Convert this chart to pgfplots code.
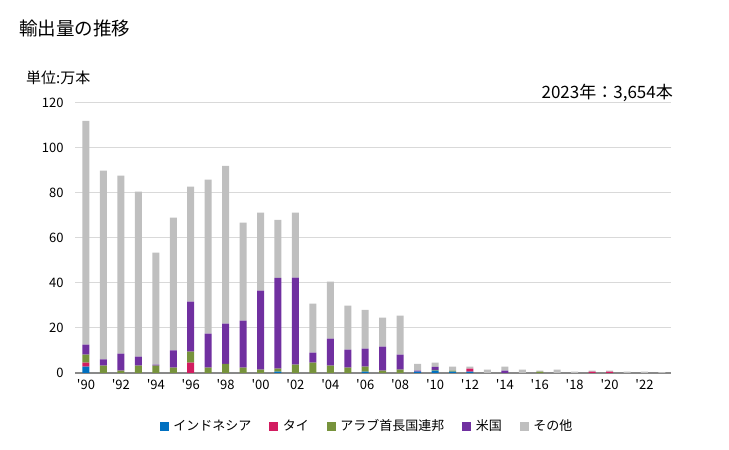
\documentclass[border=0pt]{standalone}
\usepackage{fontspec}
\setmainfont{Noto Sans CJK JP}
\usepackage{pgfplots}
\usepackage{pgfplotstable}
\pgfplotsset{compat=1.18}
\definecolor{cInd}{RGB}{0,112,192}
\definecolor{cThai}{RGB}{210,28,96}
\definecolor{cUAE}{RGB}{119,147,60}
\definecolor{cUS}{RGB}{112,48,160}
\definecolor{cOther}{RGB}{191,191,191}
\definecolor{cGrid}{RGB}{217,217,217}
\definecolor{cAxis}{RGB}{137,137,137}
\pgfplotstableread{
year ind thai uae us other
1990 2.8 1.8 3.6 4.4 99.5
1991 0 0 3.3 2.7 83.9
1992 0 0 1.0 7.6 79.1
1993 0 0 3.3 4.0 73.3
1994 0 0 3.3 0.4 49.8
1995 0 0 2.4 7.6 59.0
1996 0 4.6 4.9 22.2 51.1
1997 0 0 2.4 15.1 68.4
1998 0 0 4.1 17.8 70.2
1999 0 0 2.4 20.9 43.5
2000 0 0 1.5 35.1 34.7
2001 0.6 0 1.3 40.4 25.8
2002 0 0 3.7 38.7 28.9
2003 0 0 4.6 4.4 21.8
2004 0 0 3.3 12.0 25.3
2005 0 0 2.4 8.0 19.5
2006 0.6 0 2.2 8.0 17.3
2007 0 0 1.0 10.7 12.9
2008 0 0 1.5 6.7 17.3
2009 0.6 0 0 0.4 3.1
2010 1.0 0 0.4 1.3 1.9
2011 0.6 0 0.4 0 1.8
2012 0.6 1.3 0 0 0.9
2013 0 0 0 0 1.5
2014 0 0 0 1.0 1.8
2015 0 0 0 0 1.5
2016 0 0 0.6 0 0.4
2017 0 0 0 0 1.5
2018 0 0 0 0 0.6
2019 0 0.6 0 0 0.4
2020 0 0.6 0 0 0.4
2021 0 0 0 0 0.6
2022 0 0 0 0 0.6
2023 0 0 0 0 0.37
}\datatable
\begin{document}
\begin{tikzpicture}
\useasboundingbox (0,0) rectangle (729bp,450bp);
\node[anchor=west,inner sep=0pt,font=\fontsize{18.5bp}{22bp}\selectfont] at (19bp,422bp) {輸出量の推移};
\node[anchor=west,inner sep=0pt,font=\fontsize{15bp}{18bp}\selectfont] at (26bp,372bp) {単位:万本};
\node[anchor=east,inner sep=0pt,font=\fontsize{17bp}{20bp}\selectfont] at (673bp,357bp) {2023年：3,654本};
\begin{axis}[
  at={(75bp,77bp)}, anchor=origin,
  scale only axis, width=596bp, height=270bp,
  xmin=1989.37, xmax=2023.52, ymin=0, ymax=120,
  ybar stacked, bar width=7bp,
  ytick={0,20,...,120},
  xtick={1990,1992,...,2022},
  xticklabels={\textquotesingle90,\textquotesingle92,\textquotesingle94,\textquotesingle96,\textquotesingle98,\textquotesingle00,\textquotesingle02,\textquotesingle04,\textquotesingle06,\textquotesingle08,\textquotesingle10,\textquotesingle12,\textquotesingle14,\textquotesingle16,\textquotesingle18,\textquotesingle20,\textquotesingle22},
  ymajorgrids, grid style={cGrid, line width=1bp},
  axis lines*=left,
  y axis line style={draw=none},
  x axis line style={cAxis, line width=1.2bp, -},
  major tick length=0pt,
  tick label style={font=\fontsize{13bp}{15bp}\selectfont},
  /pgf/number format/assume math mode=true,
  yticklabel style={xshift=-8bp},
  xticklabel style={yshift=-3bp},
  legend style={at={(0.49,0)}, anchor=center, yshift=-53bp, draw=none,
    font=\fontsize{13bp}{15bp}\selectfont, legend columns=5,
    /tikz/every even column/.append style={column sep=16bp}},
  legend image code/.code={\fill[#1] (0bp,-4.5bp) rectangle (9bp,4.5bp); \path (11.5bp,0bp);},
  legend cell align=left,
]
\addplot[fill=cInd, draw=none] table[x=year,y=ind] {\datatable};
\addplot[fill=cThai, draw=none] table[x=year,y=thai] {\datatable};
\addplot[fill=cUAE, draw=none] table[x=year,y=uae] {\datatable};
\addplot[fill=cUS, draw=none] table[x=year,y=us] {\datatable};
\addplot[fill=cOther, draw=none] table[x=year,y=other] {\datatable};
\legend{インドネシア,タイ,アラブ首長国連邦,米国,その他}
\end{axis}
\end{tikzpicture}
\end{document}
